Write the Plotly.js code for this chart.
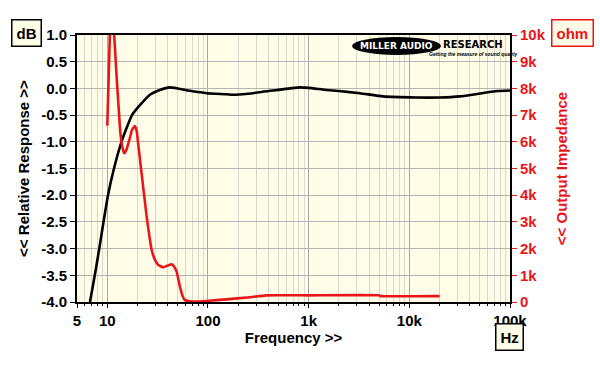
<!DOCTYPE html>
<html>
<head>
<meta charset="utf-8">
<script src="https://cdn.plot.ly/plotly-3.0.1.min.js"></script>
<style>html,body{margin:0;padding:0;background:#fff;}#chart{width:600px;height:368px;}</style>
</head>
<body>
<div id="chart"></div>
<script>
// Relative response (dB) vs frequency (Hz)
const respFreq = [6.73, 7.51, 8.32, 9.17, 10.16, 11.65, 13.83, 17.59, 21.2, 26.5, 33.3, 41.9, 66, 97, 153, 178, 250, 400, 824, 1000, 1500, 2000, 3230, 5500, 11700, 20000, 31800, 52800, 75000, 100000];
const respDb   = [-4.0, -3.5, -3.0, -2.5, -2.0, -1.5, -1.0, -0.5, -0.31, -0.12, -0.03, 0.02, -0.045, -0.09, -0.11, -0.12, -0.10, -0.05, 0.02, 0.01, -0.03, -0.05, -0.09, -0.15, -0.17, -0.17, -0.15, -0.09, -0.05, -0.04];

// Output impedance (ohm) vs frequency (Hz)
const impFreq = [10.0, 10.6, 11.1, 11.7, 13.4, 14.2, 14.75, 15.5, 16.5, 17.6, 18.8, 19.6, 20.3, 21.9, 24.6, 27.6, 30, 32.1, 36, 40, 43.6, 46, 48.9, 52.7, 56, 59, 66, 80, 97, 153, 245, 383, 1000, 5000, 5200, 20000];
const impOhm  = [6600, 10000, 14000, 10000, 6440, 5750, 5570, 5700, 6050, 6450, 6590, 6400, 5900, 4820, 3200, 1950, 1550, 1390, 1300, 1370, 1410, 1330, 1130, 570, 220, 70, 30, 20, 40, 100, 170, 250, 250, 250, 220, 220];

// Axis ticks
const xTickVals = [5, 10, 100, 1000, 10000, 100000];
const xTickText = ['5', '10', '100', '1k', '10k', '100k'];
const xMinorVals = [6,7,8,9,20,30,40,50,60,70,80,90,200,300,400,500,600,700,800,900,2000,3000,4000,5000,6000,7000,8000,9000,20000,30000,40000,50000,60000,70000,80000,90000];
const yTickVals = [1.0, 0.5, 0.0, -0.5, -1.0, -1.5, -2.0, -2.5, -3.0, -3.5, -4.0];
const yTickText = ['1.0', '0.5', '0.0', '-0.5', '-1.0', '-1.5', '-2.0', '-2.5', '-3.0', '-3.5', '-4.0'];
const y2TickVals = [0, 1000, 2000, 3000, 4000, 5000, 6000, 7000, 8000, 9000, 10000];
const y2TickText = ['0', '1k', '2k', '3k', '4k', '5k', '6k', '7k', '8k', '9k', '10k'];

const FONT = 'Liberation Sans, Arial, sans-serif';
const RED = '#E8161B';
const FS = 15;

const traces = [
  {x: respFreq, y: respDb, type: 'scatter', mode: 'lines', line: {color: '#000', width: 2.6, shape: 'spline', smoothing: 0.5}, hoverinfo: 'skip', showlegend: false},
  {x: impFreq, y: impOhm, yaxis: 'y2', type: 'scatter', mode: 'lines', line: {color: RED, width: 2.6, shape: 'spline', smoothing: 0.3}, hoverinfo: 'skip', showlegend: false}
];

function px(x) { return (x - 77) / 433; }
function py(y) { return (302 - y) / 267; }

function box(text, x, y, color) {
  return {xref: 'paper', yref: 'paper', x: px(x), y: py(y), xanchor: 'center', yanchor: 'middle', text: text, showarrow: false,
    font: {family: FONT, size: FS, color: color, weight: 'bold'}, bgcolor: '#FFFDE8', bordercolor: color, borderwidth: 1.5, borderpad: 4};
}

const layout = {
  width: 600, height: 368,
  margin: {l: 77, r: 90, t: 35, b: 66, pad: 0},
  paper_bgcolor: '#ffffff',
  plot_bgcolor: '#FFFDE8',
  font: {family: FONT, size: FS, color: '#000', weight: 'bold'},
  showlegend: false,
  xaxis: {
    type: 'log', range: [Math.log10(5), 5],
    tickvals: xTickVals, ticktext: xTickText,
    ticks: 'outside', ticklen: 4, tickwidth: 1, tickcolor: '#000',
    tickfont: {family: FONT, size: FS, color: '#000', weight: 'bold'},
    showgrid: true, gridcolor: '#A8A8A8', gridwidth: 1,
    minor: {tickvals: xMinorVals, ticks: 'outside', ticklen: 2, tickcolor: '#000', showgrid: true, gridcolor: '#D9D9D2', gridwidth: 1},
    showline: true, linecolor: '#000', linewidth: 2, mirror: true,
    zeroline: false,
    title: {text: 'Frequency >>', font: {family: FONT, size: FS, color: '#000', weight: 'bold'}, standoff: 4}
  },
  yaxis: {
    range: [-4, 1],
    tickvals: yTickVals, ticktext: yTickText,
    ticks: 'outside', ticklen: 5, tickwidth: 1, tickcolor: '#000',
    tickfont: {family: FONT, size: FS, color: '#000', weight: 'bold'},
    showgrid: true, gridcolor: '#B4B4B4', gridwidth: 1,
    showline: true, linecolor: '#000', linewidth: 2, mirror: true,
    zeroline: false,
    title: {text: '<< Relative Response >>', font: {family: FONT, size: FS, color: '#000', weight: 'bold'}, standoff: 8}
  },
  yaxis2: {
    overlaying: 'y', side: 'right',
    range: [0, 10000],
    tickvals: y2TickVals, ticktext: y2TickText,
    ticks: 'outside', ticklen: 5, tickwidth: 1, tickcolor: RED,
    tickfont: {family: FONT, size: FS, color: RED, weight: 'bold'},
    showgrid: false, zeroline: false,
    showline: true, linecolor: '#000', linewidth: 2,
    title: {text: '<< Output Impedance', font: {family: FONT, size: FS, color: RED, weight: 'bold'}, standoff: 12}
  },
  shapes: [
    {type: 'circle', xref: 'paper', yref: 'paper', x0: px(352), x1: px(441), y0: py(55), y1: py(37), fillcolor: '#000', line: {color: '#000', width: 0}, layer: 'above'}
  ],
  annotations: [
    box('dB', 26, 33, '#000'),
    box('ohm', 572, 33, RED),
    box('Hz', 509, 337, '#000'),
    {xref: 'paper', yref: 'paper', x: px(396), y: py(46), xanchor: 'center', yanchor: 'middle', text: 'MILLER AUDIO', showarrow: false, font: {family: 'DejaVu Sans, sans-serif', size: 9, color: '#fff', weight: 'bold'}},
    {xref: 'paper', yref: 'paper', x: px(473), y: py(45), xanchor: 'center', yanchor: 'middle', text: 'RESEARCH', showarrow: false, font: {family: 'DejaVu Sans, sans-serif', size: 10, color: '#000', weight: 'bold'}},
    {xref: 'paper', yref: 'paper', x: px(473), y: py(54), xanchor: 'center', yanchor: 'middle', text: '<i>Getting the measure of sound quality</i>', showarrow: false, font: {family: FONT, size: 5, color: '#000', weight: 'bold'}}
  ]
};

Plotly.newPlot('chart', traces, layout, {staticPlot: true, displayModeBar: false});
</script>
</body>
</html>
